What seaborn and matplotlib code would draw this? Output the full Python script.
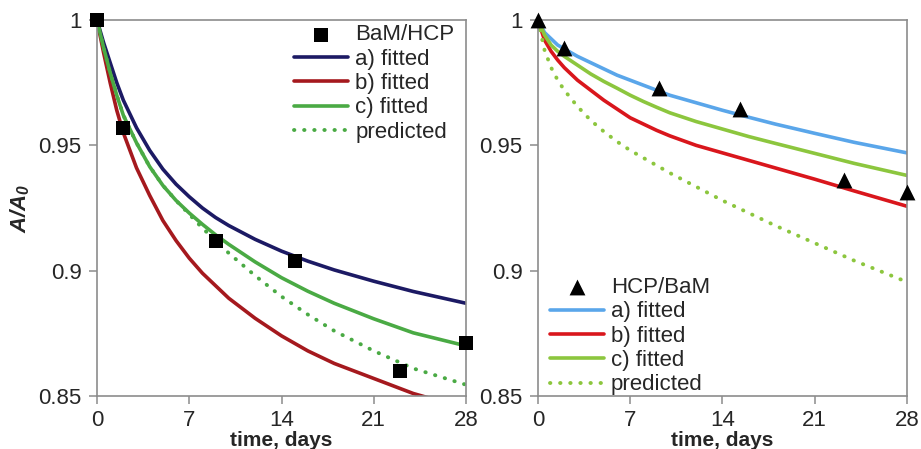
import matplotlib
matplotlib.use('Agg')
import matplotlib.pyplot as plt
import seaborn as sns
import pandas as pd

sns.set_style('white')
plt.rcParams['font.family'] = ['Liberation Sans', 'DejaVu Sans']
plt.rcParams['mathtext.default'] = 'regular'

# measured points
bam_t = [0, 2, 9, 15, 23, 28]
bam_v = [1.0, 0.957, 0.912, 0.904, 0.860, 0.871]
hcp_t = [0, 2, 9.2, 15.3, 23.2, 28]
hcp_v = [1.0, 0.989, 0.973, 0.9647, 0.936, 0.9313]

# fitted / predicted curves
curve_t = [0, 0.5, 1, 1.5, 2, 3, 4, 5, 6, 7, 8, 9, 10, 12, 14, 16, 18, 21, 24, 28]
bam_a = [1.0, 0.991, 0.983, 0.975, 0.968, 0.957, 0.948, 0.9405, 0.9345, 0.9295,
         0.925, 0.9212, 0.918, 0.9125, 0.9078, 0.9038, 0.9003, 0.8958, 0.8917, 0.887]
bam_b = [1.0, 0.987, 0.975, 0.964, 0.955, 0.941, 0.930, 0.920, 0.912, 0.905,
         0.899, 0.894, 0.889, 0.881, 0.874, 0.868, 0.863, 0.857, 0.851, 0.845]
bam_c = [1.0, 0.989, 0.979, 0.970, 0.962, 0.951, 0.9415, 0.934, 0.928, 0.923,
         0.9185, 0.9143, 0.9105, 0.9035, 0.8972, 0.8918, 0.887, 0.8808, 0.8752, 0.870]
bam_pred = [1.0, 0.989, 0.979, 0.970, 0.962, 0.951, 0.9415, 0.934, 0.928, 0.9225,
            0.917, 0.912, 0.907, 0.898, 0.8897, 0.8825, 0.876, 0.868, 0.861, 0.8545]
hcp_a = [1.0, 0.995, 0.9925, 0.990, 0.9885, 0.9855, 0.983, 0.9805, 0.978, 0.976,
         0.974, 0.972, 0.970, 0.967, 0.964, 0.9612, 0.9585, 0.9548, 0.9512, 0.947]
hcp_b = [1.0, 0.992, 0.9875, 0.984, 0.981, 0.976, 0.972, 0.968, 0.9645, 0.961,
         0.9585, 0.956, 0.9538, 0.950, 0.947, 0.944, 0.941, 0.9365, 0.9318, 0.9257]
hcp_c = [1.0, 0.994, 0.990, 0.9875, 0.9855, 0.982, 0.9785, 0.9755, 0.9728, 0.970,
         0.9675, 0.9652, 0.963, 0.9595, 0.9565, 0.9535, 0.9508, 0.9468, 0.9428, 0.938]
hcp_pred = [1.0, 0.988, 0.981, 0.976, 0.972, 0.9655, 0.960, 0.9555, 0.9515, 0.948,
            0.945, 0.942, 0.939, 0.9335, 0.928, 0.923, 0.918, 0.911, 0.904, 0.8955]

curve_labels = ['a) fitted', 'b) fitted', 'c) fitted', 'predicted']
x_ticks = [0, 7, 14, 21, 28]
y_ticks = [0.85, 0.9, 0.95, 1]
y_tick_labels = ['0.85', '0.9', '0.95', '1']

panels = [
    dict(name='BaM/HCP', t=bam_t, v=bam_v, marker='s', size=115,
         curves=[bam_a, bam_b, bam_c, bam_pred],
         colors=['#1c1a64', '#a5191e', '#4aaa44', '#4aaa44'],
         legend=dict(loc='upper right', bbox_to_anchor=(0.98, 1.0))),
    dict(name='HCP/BaM', t=hcp_t, v=hcp_v, marker='^', size=130,
         curves=[hcp_a, hcp_b, hcp_c, hcp_pred],
         colors=['#5aa6ea', '#d9161c', '#8cc63e', '#8cc63e'],
         legend=dict(loc='lower left', bbox_to_anchor=(0.02, -0.01))),
]

fig = plt.figure(figsize=(9.21, 4.49), dpi=100)
axes = [fig.add_axes([0.1053, 0.118, 0.4007, 0.8374]),
        fig.add_axes([0.5841, 0.118, 0.4007, 0.8374])]

for ax, p in zip(axes, panels):
    sns.scatterplot(x=p['t'], y=p['v'], ax=ax, marker=p['marker'], s=p['size'],
                    color='black', edgecolor='black', linewidth=0, label=p['name'],
                    clip_on=False, zorder=5)
    for vals, lab, col in zip(p['curves'], curve_labels, p['colors']):
        df = pd.DataFrame({'t': curve_t, 'v': vals})
        if lab == 'predicted':
            sns.lineplot(data=df, x='t', y='v', ax=ax, color=col, linewidth=2.8,
                         linestyle=(0, (0.1, 2.5)), dash_capstyle='round', label=lab,
                         estimator=None, sort=False)
        else:
            sns.lineplot(data=df, x='t', y='v', ax=ax, color=col, linewidth=2.6,
                         label=lab, estimator=None, sort=False,
                         solid_capstyle='round', solid_joinstyle='round')

    ax.set_xlim(0, 28)
    ax.set_ylim(0.85, 1.0)
    ax.set_xticks(x_ticks)
    ax.set_yticks(y_ticks)
    ax.set_yticklabels(y_tick_labels)
    ax.tick_params(axis='both', labelsize=16, direction='out', length=6,
                   width=1.1, color='#8c8c8c', bottom=True, left=True)
    ax.tick_params(axis='x', pad=4)
    ax.tick_params(axis='y', pad=5)
    for s in ax.spines.values():
        s.set_color('#8c8c8c')
        s.set_linewidth(1.2)
        s.set_visible(True)
    ax.set_xlabel('time, days', fontsize=15, fontweight='bold', labelpad=0)
    ax.set_ylabel('')
    ax.legend(frameon=False, fontsize=16, handlelength=2.45, handletextpad=0.3,
              labelspacing=0.15, borderaxespad=0, borderpad=0.2, **p['legend'])

axes[0].set_ylabel('A/A$_0$', fontsize=16, fontweight='bold', fontstyle='italic',
                   labelpad=5)

fig.savefig('out.png', dpi=100)
